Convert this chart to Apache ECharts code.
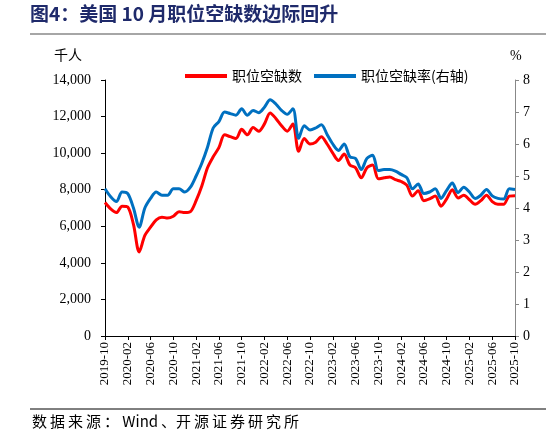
<!DOCTYPE html>
<html>
<head>
<meta charset="utf-8">
<script src="https://cdn.jsdelivr.net/npm/echarts@6/dist/echarts.min.js"></script>
<style>
  html, body { margin: 0; padding: 0; background: #fff; }
  #main { width: 546px; height: 439px; }
</style>
</head>
<body>
<div id="main"></div>
<script>
// months 2019-10 .. 2025-10
var months = [];
for (var y = 2019, m = 10; y < 2025 || (y === 2025 && m <= 10); ) {
  months.push(y + '-' + (m < 10 ? '0' + m : m));
  m++;
  if (m > 12) { m = 1; y++; }
}

// 职位空缺数 (千人)
var openings = [
  7300, 6950, 6750, 7100, 7050, 6100, 4600, 5500, 5950, 6350, 6500, 6450,
  6550, 6800, 6750, 6800, 7400, 8200, 9200, 9800, 10300, 11000, 10900, 10800,
  11300, 11000, 11400, 11200, 11600, 12200, 11900, 11500, 11200, 11600, 10100, 10800,
  10500, 10600, 10900, 10500, 10000, 9600, 9950, 9350, 9200, 8650, 9200, 9350,
  8600, 8650, 8700, 8550, 8450, 8250, 7650, 7950, 7400, 7500, 7650, 7100,
  7500, 8000, 7550, 7700, 7450, 7200, 7400, 7700, 7350, 7200, 7200, 7650,
  7670
];

// 职位空缺率 (%)
var rate = [
  4.6, 4.35, 4.2, 4.5, 4.45, 4.0, 3.4, 4.0, 4.3, 4.5, 4.4, 4.4,
  4.6, 4.6, 4.5, 4.65, 5.0, 5.4, 5.9, 6.5, 6.7, 7.0, 6.95, 6.9,
  7.1, 6.9, 7.05, 6.98, 7.15, 7.38, 7.25, 7.05, 6.93, 7.1, 6.18, 6.57,
  6.44, 6.5, 6.6, 6.3, 6.0, 5.8, 6.0, 5.6, 5.55, 5.2, 5.55, 5.65,
  5.17, 5.2, 5.2, 5.15, 5.05, 4.95, 4.6, 4.75, 4.45, 4.5, 4.6, 4.3,
  4.55, 4.78, 4.48, 4.65, 4.5, 4.3, 4.4, 4.58, 4.38, 4.3, 4.28, 4.6,
  4.58
];

var serif = '"Liberation Serif", "Times New Roman", serif';
var cjk = '"Noto Sans CJK SC", sans-serif';
var thin = '\u2009';

var chart = echarts.init(document.getElementById('main'));

var option = {
  animation: false,
  textStyle: { fontFamily: serif },
  grid: { left: 105, right: 31, top: 80, bottom: 103 },
  legend: {
    top: 64,
    left: 180,
    itemWidth: 42,
    itemHeight: 4,
    itemGap: 12,
    icon: 'rect',
    textStyle: { fontFamily: cjk, fontSize: 14, color: '#000' },
    data: ['职位空缺数', '职位空缺率(右轴)']
  },
  graphic: [
    { type: 'text', left: 30, top: 4,
      style: { text: '图4：美国 10 月职位空缺数边际回升', font: 'bold 19px ' + cjk, fill: '#1F2A6B' } },
    { type: 'line', shape: { x1: 30, y1: 34, x2: 546, y2: 34 },
      style: { stroke: '#888', lineWidth: 1.5 } },
    { type: 'text', left: 54, top: 48,
      style: { text: '千人', font: '14px ' + cjk, fill: '#000' } },
    { type: 'text', left: 510, top: 49,
      style: { text: '%', font: '14px ' + serif, fill: '#000' } },
    { type: 'line', shape: { x1: 30, y1: 409, x2: 546, y2: 409 },
      style: { stroke: '#000', lineWidth: 1 } },
    { type: 'text', left: 32, top: 414,
      style: {
        text: '数据来源：'.split('').join(thin) + ' Wind' + thin + '、' + '开源证券研究所'.split('').join(thin),
        font: '15px ' + cjk, fill: '#000'
      } }
  ],
  xAxis: {
    type: 'category',
    data: months,
    boundaryGap: false,
    axisLine: { lineStyle: { color: '#000' } },
    axisTick: { interval: 3, length: 4, lineStyle: { color: '#000' } },
    axisLabel: { interval: 3, rotate: 90, color: '#000', fontSize: 13, fontFamily: serif, margin: 6 }
  },
  yAxis: [
    {
      type: 'value', min: 0, max: 14000, interval: 2000,
      axisLine: { show: true, lineStyle: { color: '#000' } },
      axisTick: { show: true, length: 4, lineStyle: { color: '#000' } },
      splitLine: { show: false },
      axisLabel: {
        color: '#000', fontSize: 14, fontFamily: serif, margin: 14,
        formatter: function (v) { return v.toLocaleString('en-US'); }
      }
    },
    {
      type: 'value', min: 0, max: 8, interval: 1, position: 'right',
      axisLine: { show: true, lineStyle: { color: '#888' } },
      axisTick: { show: true, length: 4, lineStyle: { color: '#888' } },
      splitLine: { show: false },
      axisLabel: { color: '#000', fontSize: 14, fontFamily: serif, margin: 8 }
    }
  ],
  series: [
    {
      name: '职位空缺数', type: 'line', yAxisIndex: 0, data: openings,
      smooth: 0.3, showSymbol: false,
      lineStyle: { color: '#FF0000', width: 3 }, itemStyle: { color: '#FF0000' }
    },
    {
      name: '职位空缺率(右轴)', type: 'line', yAxisIndex: 1, data: rate,
      smooth: 0.3, showSymbol: false,
      lineStyle: { color: '#0070C0', width: 3 }, itemStyle: { color: '#0070C0' }
    }
  ]
};

chart.setOption(option);
</script>
</body>
</html>
